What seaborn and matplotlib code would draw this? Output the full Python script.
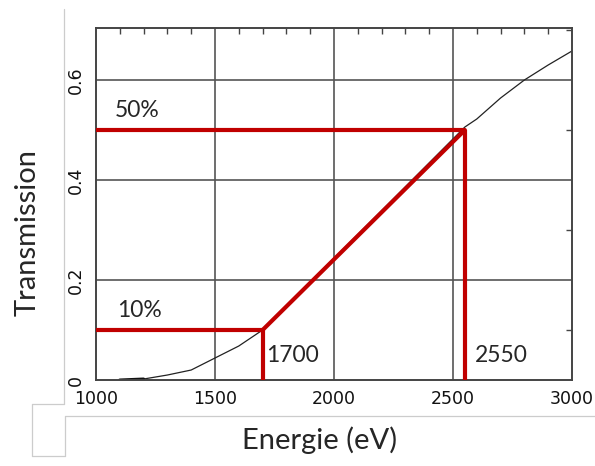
import matplotlib
matplotlib.use("Agg")
import matplotlib.pyplot as plt
import seaborn as sns
import pandas as pd
from matplotlib.lines import Line2D
from matplotlib.ticker import MultipleLocator

# -----------------------------
# DATA
# -----------------------------
energy = [1100, 1200, 1300, 1400, 1500, 1600, 1700, 2550, 2600, 2700, 2800, 2900, 3000]
transmission = [0.0, 0.002, 0.01, 0.02, 0.044, 0.068, 0.1, 0.506, 0.522, 0.564, 0.6, 0.63, 0.658]

e10, e50 = 1700, 2550
t10, t50 = 0.1, 0.5
marker_labels = ["10%", "50%"]
energy_labels = ["1700", "2550"]
xtick_vals = [1000, 1500, 2000, 2500, 3000]
ytick_vals = [0, 0.2, 0.4, 0.6]
ytick_text = ["0", "0.2", "0.4", "0.6"]

df = pd.DataFrame({"energy": energy, "transmission": transmission})

# -----------------------------
# FIGURE
# -----------------------------
sns.set_style("white")
plt.rcParams["font.family"] = ["DejaVu Sans"]

fig = plt.figure(figsize=(5.95, 4.66), dpi=100)
ax = fig.add_axes([0.1613, 0.1845, 0.8, 0.7554])

grid_col = "#555555"
for x in xtick_vals[1:-1]:
    ax.axvline(x, color=grid_col, lw=1.2, zorder=1)
for y in ytick_vals[1:]:
    ax.axhline(y, color=grid_col, lw=1.2, zorder=1)

sns.lineplot(data=df, x="energy", y="transmission", ax=ax, color="#222222", lw=0.9, zorder=2)
ax.plot(energy[:2], transmission[:2], color="#111111", lw=2.2, zorder=2)

red = "#C00000"
lw_red = 3.0
ax.plot([1000, e50], [t50, t50], color=red, lw=lw_red, zorder=3, solid_capstyle="butt")
ax.plot([e50, e50], [0, t50], color=red, lw=lw_red, zorder=3, solid_capstyle="butt")
ax.plot([1000, e10], [t10, t10], color=red, lw=lw_red, zorder=3, solid_capstyle="butt")
ax.plot([e10, e10], [0, t10], color=red, lw=lw_red, zorder=3, solid_capstyle="butt")
ax.plot([e10, e50], [t10, t50], color=red, lw=lw_red, zorder=3, solid_capstyle="round")

txt_font = ["Lato", "DejaVu Sans"]
ax.text(1080, 0.54, marker_labels[1], fontsize=16.5, family=txt_font, va="center", ha="left")
ax.text(1088, 0.14, marker_labels[0], fontsize=16.5, family=txt_font, va="center", ha="left")
ax.text(1714, 0.05, energy_labels[0], fontsize=16.5, family=txt_font, va="center", ha="left")
ax.text(2592, 0.05, energy_labels[1], fontsize=16.5, family=txt_font, va="center", ha="left")

ax.set_xlim(1000, 3000)
ax.set_ylim(0, 0.704)
ax.xaxis.set_minor_locator(MultipleLocator(100))
ax.yaxis.set_minor_locator(MultipleLocator(0.1))
ax.set_xticks(xtick_vals)
ax.set_xticklabels([str(v) for v in xtick_vals], family="DejaVu Sans")
ax.set_yticks(ytick_vals)
ax.set_yticklabels(ytick_text, rotation=90, va="center", family="DejaVu Sans")

ax.tick_params(axis="both", which="both", direction="in", top=True, right=True,
               color="#444444", width=1.0, labelcolor="#111111")
ax.tick_params(axis="both", which="major", length=0)
ax.tick_params(axis="both", which="minor", length=4)
ax.tick_params(axis="x", which="major", labelsize=12.5, pad=7)
ax.tick_params(axis="y", which="major", labelsize=12.5, pad=8)

for s in ax.spines.values():
    s.set_color("#444444")
    s.set_linewidth(1.4)

ax.set_xlabel("")
ax.set_ylabel("")
fig.text(0.5378, 0.0558, "Energie (eV)", fontsize=21, family=txt_font, ha="center", va="center")
fig.text(0.047, 0.502, "Transmission", fontsize=21, family=txt_font, ha="center", va="center",
         rotation=90)

# screenshot frame remnants
light = "#cccccc"
W, H = 595, 466
def fline(xs, ys):
    fig.add_artist(Line2D([x / W for x in xs], [1 - y / H for y in ys],
                          transform=fig.transFigure, color=light, lw=0.9))

fline([64, 64], [9, 404])
fline([32, 64], [404, 404])
fline([32, 32], [404, 456])
fline([32, 65], [456, 456])
fline([65, 65], [416, 456])
fline([65, 595], [416, 416])

plt.savefig("out.png", dpi=100)
